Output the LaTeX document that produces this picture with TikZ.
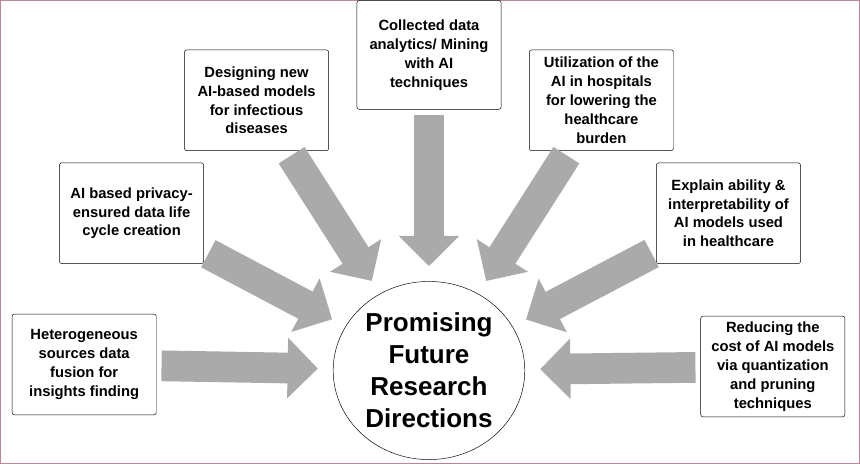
\documentclass[tikz,border=0pt]{standalone}
\usepackage{fontspec}
\setmainfont{Liberation Sans}
\usetikzlibrary{shapes.geometric, arrows.meta}
\definecolor{framepink}{RGB}{190, 130, 155}
\definecolor{arrowgray}{RGB}{170, 170, 170}

\begin{document}
\begin{tikzpicture}[
  x=0.03cm, y=-0.03cm,
  topicbox/.style={
    draw=black,
    fill=white,
    rounded corners=2pt,
    minimum width=4.29cm,
    minimum height=3.0cm,
    align=center,
    font=\fontsize{12.5}{16}\selectfont\bfseries,
  },
  hub/.style={
    draw=black,
    fill=white,
    ellipse,
    minimum width=5.7cm,
    minimum height=5.3cm,
    align=center,
    font=\fontsize{22}{27}\selectfont\bfseries,
  },
  feed/.style={
    draw=arrowgray,
    line width=26pt,
    -{Triangle[length=0.9cm, width=1.75cm]},
    shorten >=0.45cm,
    shorten <=0.15cm,
  }
]

  % outer frame
  \draw[framepink, line width=0.8pt] (3,3) rectangle (855,462);

  % centre
  \node[hub] (goal) at (428,370) {Promising\\ Future\\ Research\\ Directions};

  % topics around the centre
  \node[topicbox] (fusion) at (86,364) {Heterogeneous\\ sources data\\ fusion for\\ insights finding};
  \node[topicbox] (privacy) at (133,214) {AI based privacy-\\ ensured data life\\ cycle creation};
  \node[topicbox] (models) at (257,102) {Designing new\\ AI-based models\\ for infectious\\ diseases};
  \node[topicbox, minimum height=3.24cm] (mining) at (428,57) {Collected data\\ analytics/ Mining\\ with AI\\ techniques};
  \node[topicbox] (hospital) at (599,102) {Utilization of the\\ AI in hospitals\\ for lowering the\\ healthcare\\ burden};
  \node[topicbox] (explain) at (725,214) {Explain ability \&\\ interpretability of\\ AI models used\\ in healthcare};
  \node[topicbox] (cost) at (769,366) {Reducing the\\ cost of AI models\\ via quantization\\ and pruning\\ techniques};

  % block arrows
  \foreach \src in {fusion, privacy, models, mining, hospital, explain, cost}
    \draw[feed] (\src) -- (goal);

\end{tikzpicture}
\end{document}
